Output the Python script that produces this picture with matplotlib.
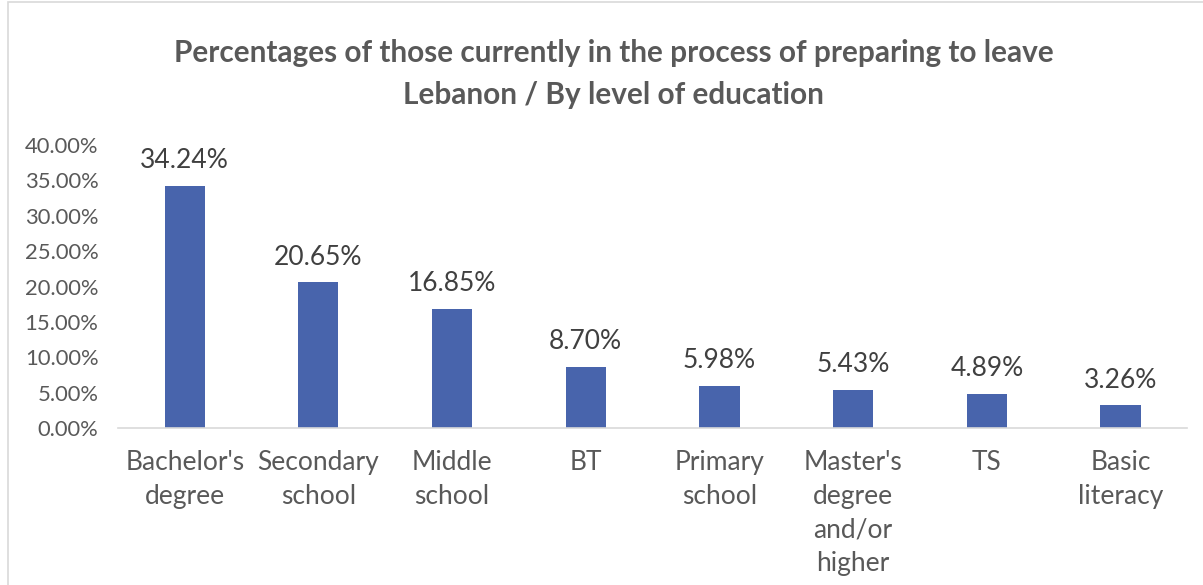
import matplotlib

matplotlib.use("Agg")
import matplotlib.pyplot as plt
from matplotlib.patches import Rectangle

CATEGORIES = [
    "Bachelor's\ndegree",
    "Secondary\nschool",
    "Middle\nschool",
    "BT",
    "Primary\nschool",
    "Master's\ndegree\nand/or\nhigher",
    "TS",
    "Basic\nliteracy",
]
VALUES = [34.24, 20.65, 16.85, 8.70, 5.98, 5.43, 4.89, 3.26]
YTICKS = [0, 5, 10, 15, 20, 25, 30, 35, 40]

TITLE = "Percentages of those currently in the process of preparing to leave\nLebanon / By level of education"
BAR_COLOR = "#4864AC"

plt.rcParams["font.family"] = ["Lato", "DejaVu Sans"]

fig = plt.figure(figsize=(12.03, 5.85), dpi=100, facecolor="white")
fig.patches.append(Rectangle((8 / 1203, -0.01), 1.0, 1.0 - 2 / 585 + 0.01, transform=fig.transFigure,
                             fill=False, edgecolor="#D9D9D9", linewidth=1.2))

ax = fig.add_axes([0.098, 0.268, 0.889, 0.484])
x = range(len(CATEGORIES))
ax.bar(x, VALUES, width=0.3, color=BAR_COLOR)
for xi, v in zip(x, VALUES):
    ax.annotate(f"{v:.2f}%", (xi, v), xytext=(0, 9), textcoords="offset points",
                ha="center", va="bottom", fontsize=19, color="#404040")

ax.set_xlim(-0.5, len(CATEGORIES) - 0.5)
ax.set_ylim(0, 40)
ax.set_yticks(YTICKS)
ax.set_yticklabels([f"{t:.2f}%" for t in YTICKS], fontsize=15.8, color="#595959")
ax.set_xticks(list(x))
ax.set_xticklabels(CATEGORIES, fontsize=19, color="#595959", linespacing=1.43)
ax.tick_params(axis="both", length=0)
ax.tick_params(axis="x", pad=16)
ax.tick_params(axis="y", pad=14)
for s in ["top", "right", "left"]:
    ax.spines[s].set_visible(False)
ax.spines["bottom"].set_color("#D9D9D9")
ax.spines["bottom"].set_linewidth(1.2)

fig.text(0.51, 0.874, TITLE, ha="center", va="center", fontsize=21.4, fontweight="bold",
         color="#595959", linespacing=1.6)

fig.savefig("out.png", dpi=100, facecolor="white")
